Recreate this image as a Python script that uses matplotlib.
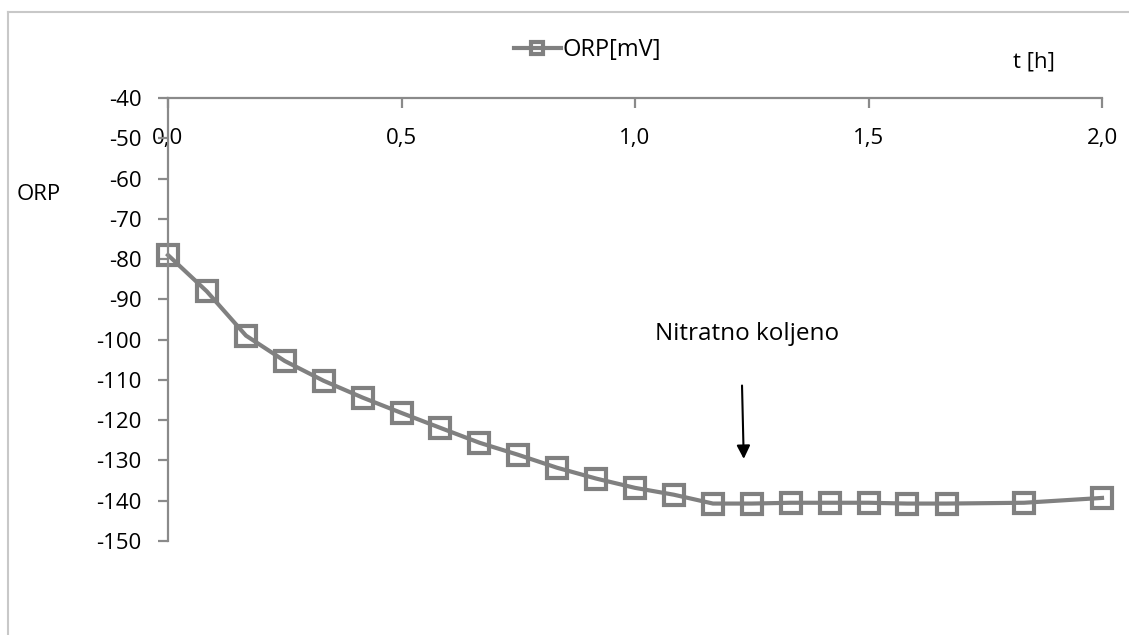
import numpy as np
import matplotlib.pyplot as plt
from matplotlib.lines import Line2D
from matplotlib.ticker import FuncFormatter, MultipleLocator

# time [h] and ORP [mV]
t = [0.0, 0.083, 0.167, 0.25, 0.333, 0.417, 0.5, 0.583, 0.667, 0.75, 0.833,
     0.917, 1.0, 1.083, 1.167, 1.25, 1.333, 1.417, 1.5, 1.583, 1.667, 1.833, 2.0]
orp = [-79, -88, -99, -105.3, -110.2, -114.4, -118.2, -121.9, -125.6, -128.6,
       -131.8, -134.5, -136.8, -138.5, -140.7, -140.7, -140.5, -140.5, -140.5,
       -140.7, -140.7, -140.5, -139.3]

plt.rcParams['font.family'] = ['Open Sans', 'DejaVu Sans']
plt.rcParams['axes.unicode_minus'] = False
gray = '#808080'
spine_c = '#8a8a8a'

fig = plt.figure(figsize=(11.29, 6.35), dpi=100)
ax = fig.add_axes([0.1488, 0.148, 0.8273, 0.6977])

ax.plot(t, orp, color=gray, lw=3, marker='s', markersize=15,
        markerfacecolor='none', markeredgecolor=gray, markeredgewidth=3,
        label='ORP[mV]', clip_on=False)

ax.set_xlim(0, 2.0)
ax.set_ylim(-150, -40)
ax.yaxis.set_major_locator(MultipleLocator(10))
ax.xaxis.set_major_locator(MultipleLocator(0.5))
ax.xaxis.set_major_formatter(FuncFormatter(lambda v, p: f"{v:.1f}".replace('.', ',')))

for s in ['right', 'bottom']:
    ax.spines[s].set_visible(False)
for s in ['top', 'left']:
    ax.spines[s].set_color(spine_c)
    ax.spines[s].set_linewidth(1.6)

ax.tick_params(axis='x', top=True, bottom=False, labeltop=True, labelbottom=False,
               direction='in', length=7, width=1.6, color=spine_c,
               pad=-37, labelsize=16)
ax.tick_params(axis='y', direction='out', length=7, width=1.6, color=spine_c,
               labelsize=16, pad=12)

ax.annotate('', xy=(1.233, -130.3), xytext=(1.229, -110.7),
            arrowprops=dict(arrowstyle='-|>', color='black', lw=1.5,
                            mutation_scale=20))
ax.text(1.24, -98.5, 'Nitratno koljeno', ha='center', va='center', fontsize=17.5)

fig.text(0.015, 0.694, 'ORP', ha='left', va='center', fontsize=16)
fig.text(0.916, 0.902, 't [h]', ha='center', va='center', fontsize=16)

fig.legend(loc='center', bbox_to_anchor=(0.52, 0.921), frameon=False,
           fontsize=17, handlelength=2.0, handletextpad=0.05, markerscale=0.6)

# outer chart frame
fig.add_artist(Line2D([0.007, 1.0], [0.981, 0.981], color='#c8c8c8', lw=1.5,
                      transform=fig.transFigure))
fig.add_artist(Line2D([0.007, 0.007], [0.0, 0.981], color='#c8c8c8', lw=1.5,
                      transform=fig.transFigure))

fig.savefig('out.png', dpi=100)
